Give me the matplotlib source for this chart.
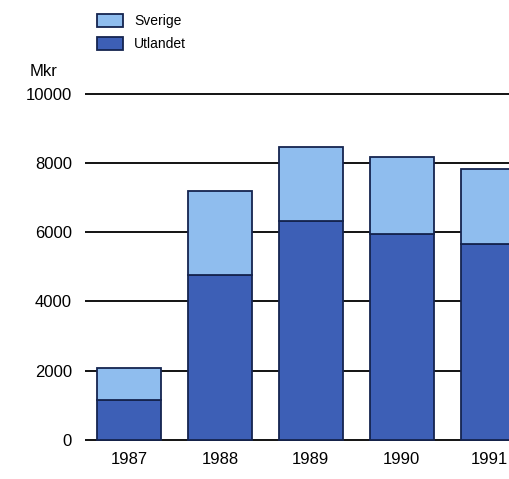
import matplotlib
matplotlib.use("Agg")
import matplotlib.pyplot as plt
from matplotlib.patches import Rectangle
from matplotlib.transforms import ScaledTranslation
import numpy as np

years = ["1987", "1988", "1989", "1990", "1991"]
utlandet = [1150, 4760, 6330, 5950, 5660]
sverige = [920, 2430, 2140, 2230, 2160]
yticks = [0, 2000, 4000, 6000, 8000, 10000]

plt.rcParams["font.family"] = ["Liberation Sans Narrow", "Liberation Sans", "DejaVu Sans"]

W, H = 509, 479
fig = plt.figure(figsize=(W / 100, H / 100), dpi=100)

light = "#8fbdee"
dark = "#3d5fb6"
edge = "#15244f"

ymin, ymax = -150, 10150
px_per_unit = (440 - 93.7) / 10000
ax_bottom_px = 440 + (0 - ymin) * px_per_unit
ax_top_px = 93.7 - (ymax - 10000) * px_per_unit
ax_left_px = 85
ax = fig.add_axes([ax_left_px / W, (H - ax_bottom_px) / H, 1 - ax_left_px / W,
                   (ax_bottom_px - ax_top_px) / H])

x = np.arange(len(years))
ax.set_xlim(-0.485, 4.18)
ax.set_ylim(ymin, ymax)

for t in yticks:
    ax.axhline(t, color="black", lw=1.3, zorder=1)

bw = 0.70
ax.bar(x, utlandet, width=bw, color=dark, edgecolor=edge, linewidth=1.3, zorder=3)
ax.bar(x, sverige, width=bw, bottom=utlandet, color=light, edgecolor=edge,
       linewidth=1.3, zorder=3)

for s in ax.spines.values():
    s.set_visible(False)
ax.set_yticks(yticks)
ax.set_yticklabels([str(t) for t in yticks], fontsize=12)
ax.set_xticks(x)
ax.set_xticklabels(years, fontsize=12)
ax.tick_params(axis="both", length=0)
ax.tick_params(axis="y", pad=9.5)
ax.tick_params(axis="x", pad=5)

# keep the last year label inside the figure edge
last = ax.get_xticklabels()[-1]
last.set_transform(last.get_transform() + ScaledTranslation(-3 / 100, 0, fig.dpi_scale_trans))

fig.text(30 / W, 1 - 72 / H, "Mkr", fontsize=12, ha="left", va="center")

# legend
for i, (lab, col) in enumerate([("Sverige", light), ("Utlandet", dark)]):
    yc = 21 + i * 23
    fig.patches.append(Rectangle((97 / W, 1 - (yc + 6) / H), 26 / W, 13 / H,
                                 transform=fig.transFigure, facecolor=col,
                                 edgecolor=edge, linewidth=1.3))
    fig.text(134 / W, 1 - yc / H, lab, fontsize=10, ha="left", va="center")

fig.savefig("out.png", dpi=100, facecolor="white")
